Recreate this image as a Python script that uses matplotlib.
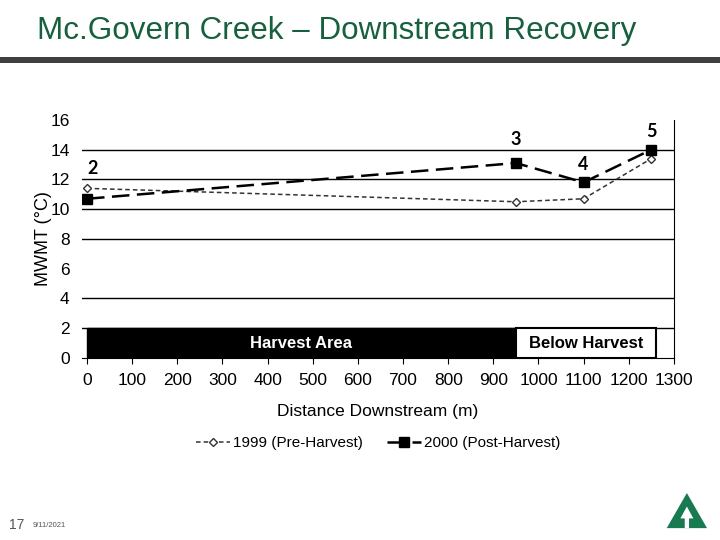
import matplotlib
matplotlib.use("Agg")
import matplotlib.pyplot as plt
from matplotlib.patches import Rectangle, Polygon

plt.rcParams["font.family"] = ["Liberation Sans", "DejaVu Sans"]

# data
distance = [0, 950, 1100, 1250]
mwmt_1999 = [11.4, 10.5, 10.7, 13.4]
mwmt_2000 = [10.7, 13.1, 11.8, 14.0]
site_labels = ["2", "3", "4", "5"]
xticks = list(range(0, 1301, 100))
yticks = list(range(0, 17, 2))
grid_levels = [2, 4, 8, 10, 12, 14]
harvest_end = 950
below_end = 1260

fig = plt.figure(figsize=(7.2, 5.4), dpi=100)

# slide header
fig.text(0.051, 0.943, "Mc.Govern Creek \u2013 Downstream Recovery", color="#17603d",
         fontsize=22.6, va="center", ha="left")
fig.add_artist(Rectangle((0, 0.884), 1, 0.01, transform=fig.transFigure,
                         color="#404040", lw=0))

ax = fig.add_axes([0.114, 0.337, 0.822, 0.441])
for y in grid_levels:
    ax.axhline(y, color="black", lw=1, zorder=1)

# site bands
ax.add_patch(Rectangle((0, 0), harvest_end, 2, facecolor="black", edgecolor="black", zorder=2))
ax.add_patch(Rectangle((harvest_end, 0), below_end - harvest_end, 2, facecolor="white",
                       edgecolor="black", lw=1.5, zorder=2))
ax.text(harvest_end / 2, 1.0, "Harvest Area", color="white", fontweight="bold",
        fontsize=12, ha="center", va="center", zorder=3)
ax.text((harvest_end + below_end) / 2, 1.0, "Below Harvest", color="black",
        fontweight="bold", fontsize=12, ha="center", va="center", zorder=3)

ax.plot(distance, mwmt_1999, color="#333333", ls=(0, (3, 2)), lw=1.1, marker="D",
        ms=4.5, mfc="white", mec="#333333", label="1999 (Pre-Harvest)", zorder=4)
ax.plot(distance, mwmt_2000, color="black", ls=(0, (7, 3)), lw=1.8, marker="s",
        ms=6.5, label="2000 (Post-Harvest)", zorder=5)

label_offsets = [(12, 1.3), (0, 1.6), (0, 1.2), (0, 1.2)]
for x, y1, y2, lab, (dx, dy) in zip(distance, mwmt_1999, mwmt_2000, site_labels, label_offsets):
    ax.text(x + dx, max(y1, y2) + dy, lab, fontsize=13, fontweight="bold",
            family=["Lato", "DejaVu Sans"], ha="center", va="center")

ax.set_xlim(-11, 1300)
ax.set_ylim(0, 16)
ax.set_xticks(xticks)
ax.set_yticks(yticks)
ax.tick_params(axis="both", labelsize=12.5, color="black")
ax.tick_params(axis="y", length=0, pad=9)
ax.tick_params(axis="x", length=4, pad=7, direction="out")
ax.spines["left"].set_visible(False)
ax.spines["top"].set_visible(False)
ax.spines["right"].set_bounds(0, 16)
ax.set_xlabel("Distance Downstream (m)", fontsize=12.5, labelpad=11)
ax.set_ylabel("MWMT (\u00b0C)", fontsize=13, labelpad=-1)

leg = ax.legend(loc="upper center", bbox_to_anchor=(0.5, -0.27), ncol=2, frameon=False,
                fontsize=11, handlelength=2.2, handletextpad=0.2, columnspacing=1.6)

# footer
fig.text(0.012, 0.028, "17", fontsize=10, color="#555555", va="center")
fig.text(0.046, 0.026, "9/11/2021", fontsize=5.5, color="#555555", va="center")
logo = [(0.926, 0.022), (0.982, 0.022), (0.954, 0.087)]
fig.add_artist(Polygon(logo, closed=True, transform=fig.transFigure, color="#177a50", lw=0))
arrow = [(0.951, 0.022), (0.951, 0.040), (0.945, 0.040), (0.954, 0.062),
         (0.963, 0.040), (0.957, 0.040), (0.957, 0.022)]
fig.add_artist(Polygon(arrow, closed=True, transform=fig.transFigure, color="white", lw=0))

fig.savefig("out.png", dpi=100)
